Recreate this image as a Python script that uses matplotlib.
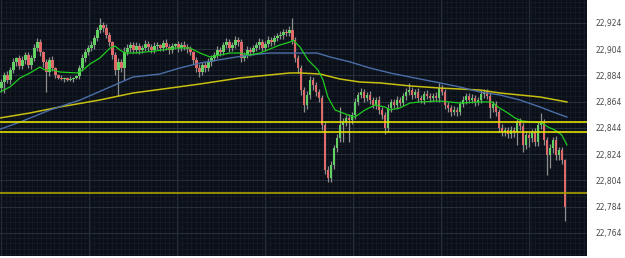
import matplotlib
matplotlib.use("Agg")
import matplotlib.pyplot as plt
from matplotlib.ticker import MultipleLocator, FuncFormatter
import numpy as np

# candle closes (one per bar), first open, wick lengths
closes = [
    22879.0, 22884.4, 22880.5, 22888.2, 22894.3, 22897.3, 22891.2, 22895.8, 22899.6, 22892.0,
    22897.3, 22904.9, 22909.5, 22901.9, 22894.3, 22886.6, 22895.8, 22889.7, 22884.4, 22882.1,
    22881.3, 22882.1, 22880.5, 22881.3, 22882.1, 22883.6, 22889.7, 22897.3, 22901.9, 22904.9,
    22907.2, 22912.5, 22918.6, 22922.5, 22920.2, 22914.8, 22909.5, 22899.6, 22888.2, 22894.3,
    22889.7, 22901.9, 22904.9, 22907.2, 22903.4, 22906.4, 22903.4, 22904.9, 22908.0, 22905.7,
    22903.4, 22906.4, 22907.2, 22904.9, 22908.7, 22905.7, 22903.4, 22906.4, 22908.0, 22904.9,
    22907.2, 22905.7, 22904.2, 22901.9, 22895.8, 22889.7, 22886.6, 22892.0, 22889.7, 22894.3,
    22897.3, 22899.6, 22903.4, 22901.9, 22907.2, 22909.5, 22904.9, 22907.2, 22911.0, 22909.5,
    22897.3, 22899.6, 22903.4, 22901.9, 22904.9, 22907.2, 22909.5, 22904.9, 22908.0, 22911.0,
    22909.5, 22912.5, 22914.1, 22914.8, 22917.1, 22916.4, 22918.6, 22911.0, 22897.3, 22889.7,
    22872.9, 22861.5, 22869.1, 22880.5, 22876.7, 22871.4, 22866.8, 22846.3, 22812.0, 22805.9,
    22815.8, 22828.7, 22836.3, 22846.3, 22848.5, 22851.6, 22850.1, 22853.9, 22863.8, 22869.1,
    22871.4, 22866.8, 22869.1, 22865.3, 22861.5, 22865.3, 22857.7, 22853.9, 22844.0, 22859.2,
    22863.8, 22861.5, 22865.3, 22863.0, 22868.4, 22871.4, 22872.9, 22869.1, 22871.4, 22866.8,
    22865.3, 22869.9, 22868.4, 22866.8, 22868.4, 22866.8, 22874.4, 22871.4, 22861.5, 22859.2,
    22856.2, 22857.7, 22856.2, 22862.3, 22865.3, 22868.4, 22865.3, 22866.8, 22863.8, 22865.3,
    22869.9, 22871.4, 22868.4, 22859.2, 22862.3, 22856.2, 22844.0, 22840.9, 22842.4, 22839.4,
    22842.4, 22840.9, 22848.5, 22845.5, 22831.0, 22838.6, 22836.3, 22840.9, 22833.2, 22846.3,
    22848.5, 22834.8, 22823.4, 22828.7, 22834.8, 22823.4, 22827.2, 22819.6, 22783.8,
]
first_open = 22874.4

upper_wick = [
    2, 2, 3, 2, 3, 1, 2, 3, 2, 2,
    2, 3, 3, 2, 1, 2, 2, 3, 1, 1,
    2, 1, 1, 2, 1, 1, 2, 3, 2, 2,
    3, 2, 2, 5, 2, 3, 2, 1, 2, 3,
    2, 4, 3, 2, 2, 3, 2, 2, 3, 2,
    2, 3, 2, 1, 2, 3, 2, 2, 1, 2,
    2, 3, 2, 2, 1, 2, 3, 2, 2, 3,
    2, 2, 3, 2, 2, 3, 2, 2, 3, 2,
    2, 2, 3, 2, 2, 2, 3, 2, 2, 3,
    2, 2, 2, 3, 2, 2, 3, 9, 2, 2,
    2, 2, 3, 3, 2, 2, 2, 2, 2, 3,
    3, 2, 3, 14, 3, 2, 3, 2, 3, 2,
    3, 2, 2, 3, 2, 2, 3, 2, 2, 3,
    2, 2, 3, 2, 2, 3, 5, 2, 2, 3,
    2, 2, 3, 2, 2, 3, 4, 2, 2, 2,
    2, 3, 2, 2, 3, 2, 2, 3, 2, 2,
    3, 2, 2, 3, 2, 2, 2, 3, 2, 2,
    3, 2, 2, 3, 2, 3, 2, 2, 3, 2,
    7, 2, 2, 3, 2, 3, 2, 2, 1,
]
lower_wick = [
    3, 8, 2, 3, 2, 3, 2, 2, 3, 2,
    3, 2, 2, 3, 4, 15, 3, 2, 2, 1,
    1, 2, 1, 1, 2, 1, 2, 2, 3, 2,
    2, 3, 2, 2, 3, 2, 3, 3, 4, 20,
    3, 9, 2, 3, 2, 2, 3, 2, 2, 3,
    2, 2, 3, 2, 2, 2, 3, 2, 2, 3,
    2, 2, 3, 2, 3, 3, 4, 2, 3, 2,
    3, 2, 2, 3, 2, 2, 3, 2, 2, 3,
    3, 2, 2, 3, 2, 2, 3, 2, 2, 2,
    3, 2, 2, 2, 3, 2, 2, 3, 3, 4,
    4, 5, 3, 3, 4, 3, 3, 4, 3, 3,
    3, 3, 3, 3, 13, 3, 17, 3, 3, 2,
    2, 3, 2, 3, 2, 3, 3, 3, 5, 3,
    3, 2, 3, 2, 2, 3, 2, 3, 2, 3,
    2, 3, 2, 3, 2, 2, 3, 2, 3, 3,
    3, 2, 3, 2, 2, 3, 2, 2, 3, 2,
    2, 3, 2, 8, 3, 3, 3, 3, 3, 3,
    3, 4, 10, 3, 5, 3, 7, 3, 3, 3,
    3, 4, 15, 10, 4, 4, 4, 3, 11,
]

# moving averages (bar position, price)
ma_fast_x = [-0.5, 2.8, 6.2, 9.5, 12.8, 14.5, 17.2, 19.5, 25.2, 27.2, 29.5, 32.8, 36.2, 37.8,
             39.5, 41.2, 44.5, 51.2, 57.8, 62.8, 66.2, 69.5, 72.8, 76.2, 79.5, 82.8, 86.2,
             89.5, 92.8, 96.2, 97.2, 99.5, 102.2, 105.5, 107.2, 108.8, 111.2, 115.5, 117.8,
             121.2, 124.5, 127.8, 129.5, 132.8, 136.2, 139.5, 146.2, 152.8, 159.5, 163.5,
             165.5, 168.8, 171.2, 173.5, 180.2, 182.2, 184.5, 186.8, 188.5]
ma_fast_y = [22871.4, 22875.2, 22882.1, 22885.9, 22890.4, 22888.2, 22888.2, 22886.6, 22885.9,
             22888.2, 22892.7, 22897.3, 22904.9, 22906.4, 22903.4, 22901.1, 22901.1, 22902.6,
             22904.9, 22904.9, 22901.1, 22898.1, 22899.6, 22901.1, 22901.1, 22899.6, 22901.1,
             22904.2, 22907.2, 22909.5, 22911.0, 22905.7, 22895.8, 22888.2, 22880.5, 22867.6,
             22857.7, 22853.9, 22852.3, 22857.7, 22861.5, 22860.0, 22857.7, 22859.2, 22863.0,
             22863.8, 22864.5, 22863.0, 22863.8, 22863.8, 22860.0, 22855.4, 22851.6, 22849.3,
             22847.8, 22844.7, 22842.4, 22838.6, 22831.0]
ma_mid_x = [-0.5, 6.2, 16.2, 26.2, 36.2, 43.8, 52.8, 59.5, 66.2, 76.2, 82.8, 89.5, 105.2,
            109.5, 116.2, 122.8, 129.5, 136.2, 146.2, 152.8, 159.5, 166.2, 172.8, 179.5,
            183.8, 188.5]
ma_mid_y = [22843.0, 22848.5, 22857.7, 22865.3, 22875.2, 22882.8, 22885.1, 22889.7, 22893.5,
            22897.3, 22899.6, 22901.1, 22901.1, 22898.1, 22894.3, 22889.7, 22885.9, 22882.8,
            22878.3, 22875.2, 22871.4, 22869.1, 22865.3, 22860.0, 22856.2, 22852.3]
ma_slow_x = [-0.5, 9.5, 19.5, 32.8, 43.8, 56.2, 66.2, 79.5, 89.5, 96.2, 99.5, 106.2, 112.8,
             119.5, 126.2, 136.2, 146.2, 159.5, 166.2, 179.5, 188.5]
ma_slow_y = [22851.6, 22855.4, 22860.0, 22865.3, 22870.6, 22874.4, 22877.5, 22882.1, 22884.4,
             22885.9, 22885.9, 22885.1, 22881.3, 22879.0, 22878.3, 22876.0, 22874.4, 22872.9,
             22870.6, 22867.6, 22863.8]

levels = [22848.5, 22840.9, 22794.4]
level_colors = ["#e4e000", "#e4e000", "#a8a000"]

yticks = [22764, 22784, 22804, 22824, 22844, 22864, 22884, 22904, 22924]

opens = [first_open] + closes[:-1]
idx = np.arange(len(closes))
c = np.array(closes); o = np.array(opens)
hi = np.maximum(o, c) + np.array(upper_wick)
lo = np.minimum(o, c) - np.array(lower_wick)

fig = plt.figure(figsize=(6.25, 2.58), dpi=100, facecolor="white")
ax = fig.add_axes([0, 2/258, 587/625, 256/258])
ax.set_facecolor("#0b0f17")

ax.set_xlim(-0.5, 195.2)
ax.set_ylim(22746.4, 22941.5)

# grid: faint fine grid plus slightly brighter major lines
ax.xaxis.set_major_locator(MultipleLocator(29.3))
ax.xaxis.set_minor_locator(MultipleLocator(1.47))
ax.yaxis.set_minor_locator(MultipleLocator(4))
ax.set_yticks(yticks)
ax.grid(True, which="minor", color="#161e29", lw=0.5)
ax.grid(True, which="major", color="#252f3c", lw=0.8)
ax.set_axisbelow(True)

ax.yaxis.tick_right()
ax.yaxis.set_major_formatter(FuncFormatter(lambda v, p: f"{int(v):,}"))
ax.tick_params(axis="y", which="both", length=0, pad=6, labelsize=5.5, labelcolor="#4a4a4a")
ax.tick_params(axis="x", which="both", length=0, labelbottom=False)
for s in ax.spines.values():
    s.set_visible(False)

# candles
ax.vlines(idx, lo, hi, color="#8e8e8e", lw=0.9, zorder=2)
cols = np.where(c >= o, "#62d062", "#e06a6a")
ax.bar(idx, c - o, bottom=o, width=0.7, color=cols, lw=0, zorder=3)

# moving averages and levels
ax.plot(ma_slow_x, ma_slow_y, color="#c8c010", lw=1.1, zorder=4)
ax.plot(ma_mid_x, ma_mid_y, color="#4a6ea8", lw=1.0, zorder=4)
ax.plot(ma_fast_x, ma_fast_y, color="#1fcc1f", lw=0.9, zorder=5)
for lv, lc in zip(levels, level_colors):
    ax.axhline(lv, color=lc, lw=1.2, zorder=5)

fig.savefig("out.png", dpi=100, facecolor="white")
